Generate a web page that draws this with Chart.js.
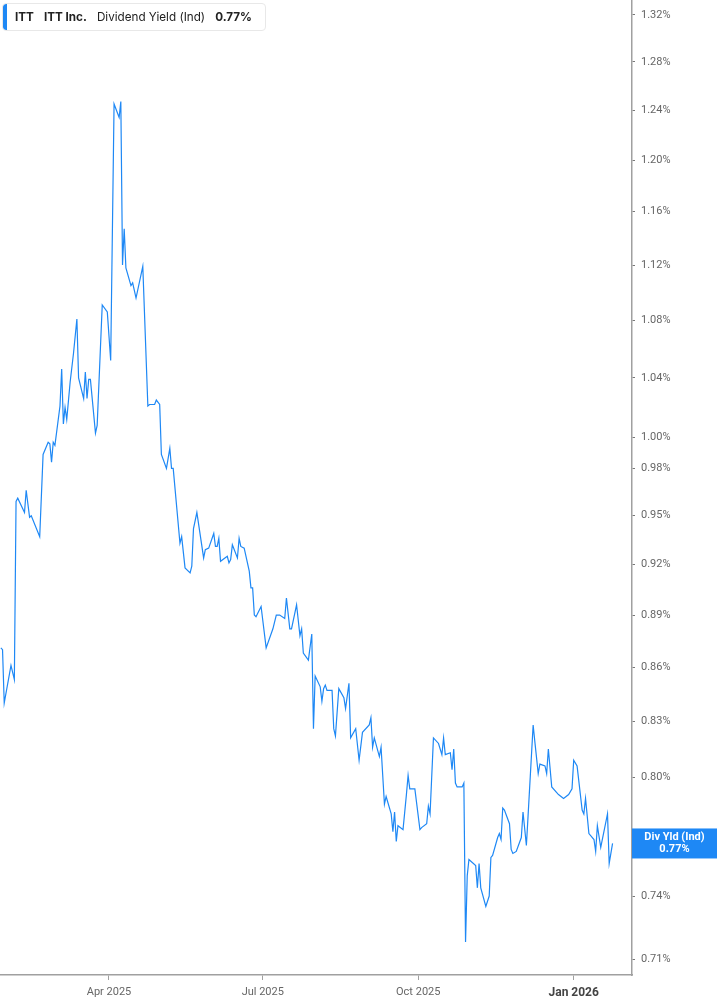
<!DOCTYPE html>
<html>
<head>
<meta charset="utf-8">
<title>ITT Dividend Yield</title>
<script src="https://cdn.jsdelivr.net/npm/chart.js@4.4.1/dist/chart.umd.min.js"></script>
<style>
  html, body { margin: 0; padding: 0; background: #fff; }
  #wrap { position: relative; width: 717px; height: 1005px; }
  #legend {
    position: absolute; left: 2px; top: 3px; height: 28px; padding-right: 3px;
    box-sizing: border-box; border: 1px solid #e8e8e8; border-radius: 4px;
    background: #fff; font-family: Inter, "Noto Sans", sans-serif; font-size: 11.7px;
    color: #222; display: flex; align-items: center; overflow: hidden; white-space: nowrap;
  }
  #legend .bar { width: 4px; align-self: stretch; background: #1e88f5; margin-right: 8px; border-radius: 3px 0 0 3px; }
  #legend b { font-weight: 700; }
  #legend span { margin-right: 10px; }
</style>
</head>
<body>
<div id="wrap">
  <canvas id="chart"></canvas>
  <div id="legend"><div class="bar"></div><span><b>ITT</b></span><span><b>ITT Inc.</b></span><span>Dividend Yield (Ind)</span><span><b id="last-val"></b></span></div>
</div>
<script>
const dates = [
  '2025-01-27','2025-01-28','2025-01-29','2025-02-02','2025-02-04','2025-02-05','2025-02-06','2025-02-10','2025-02-11','2025-02-13',
  '2025-02-14','2025-02-19','2025-02-21','2025-02-24','2025-02-25','2025-02-26','2025-02-27','2025-02-28','2025-03-03','2025-03-04',
  '2025-03-05','2025-03-06','2025-03-07','2025-03-09','2025-03-11','2025-03-13','2025-03-14','2025-03-17','2025-03-18','2025-03-19',
  '2025-03-20','2025-03-21','2025-03-24','2025-03-25','2025-03-28','2025-03-31','2025-04-02','2025-04-04','2025-04-07','2025-04-08',
  '2025-04-09','2025-04-10','2025-04-11','2025-04-14','2025-04-15','2025-04-17','2025-04-21','2025-04-24','2025-04-25','2025-04-28',
  '2025-04-29','2025-05-01','2025-05-02','2025-05-05','2025-05-07','2025-05-08','2025-05-09','2025-05-13','2025-05-14','2025-05-16',
  '2025-05-19','2025-05-20','2025-05-21','2025-05-23','2025-05-27','2025-05-28','2025-05-30','2025-06-02','2025-06-03','2025-06-04',
  '2025-06-05','2025-06-06','2025-06-10','2025-06-11','2025-06-12','2025-06-13','2025-06-16','2025-06-17','2025-06-18','2025-06-20',
  '2025-06-23','2025-06-24','2025-06-25','2025-06-26','2025-06-27','2025-06-30','2025-07-03','2025-07-07','2025-07-09','2025-07-11',
  '2025-07-14','2025-07-15','2025-07-17','2025-07-18','2025-07-21','2025-07-23','2025-07-24','2025-07-25','2025-07-28','2025-07-30',
  '2025-07-31','2025-08-01','2025-08-04','2025-08-05','2025-08-06','2025-08-07','2025-08-08','2025-08-11','2025-08-12','2025-08-13',
  '2025-08-15','2025-08-18','2025-08-19','2025-08-21','2025-08-22','2025-08-25','2025-08-27','2025-08-29','2025-09-02','2025-09-03',
  '2025-09-04','2025-09-05','2025-09-08','2025-09-09','2025-09-11','2025-09-12','2025-09-15','2025-09-16','2025-09-17','2025-09-18',
  '2025-09-19','2025-09-22','2025-09-24','2025-09-25','2025-09-26','2025-09-29','2025-10-02','2025-10-03','2025-10-06','2025-10-07',
  '2025-10-08','2025-10-10','2025-10-13','2025-10-15','2025-10-16','2025-10-17','2025-10-20','2025-10-21','2025-10-22','2025-10-23',
  '2025-10-24','2025-10-27','2025-10-28','2025-10-29','2025-10-30','2025-10-31','2025-11-04','2025-11-05','2025-11-06','2025-11-07',
  '2025-11-10','2025-11-12','2025-11-13','2025-11-14','2025-11-17','2025-11-18','2025-11-19','2025-11-20','2025-11-21','2025-11-24',
  '2025-11-25','2025-11-26','2025-11-28','2025-12-01','2025-12-02','2025-12-04','2025-12-05','2025-12-08','2025-12-09','2025-12-11',
  '2025-12-12','2025-12-15','2025-12-16','2025-12-17','2025-12-19','2025-12-23','2025-12-26','2025-12-29','2025-12-31','2026-01-01',
  '2026-01-03','2026-01-06','2026-01-07','2026-01-08','2026-01-10','2026-01-13','2026-01-14','2026-01-15','2026-01-17','2026-01-21',
  '2026-01-22','2026-01-24'
];
const yieldPct = [
  0.871,0.870,0.840,0.861,0.853,0.959,0.961,0.952,0.966,0.949,
  0.950,0.937,0.989,0.997,0.996,0.984,0.997,0.995,1.021,1.046,
  1.009,1.020,1.012,1.037,1.057,1.081,1.040,1.026,1.044,1.026,
  1.039,1.039,1.003,1.008,1.091,1.086,1.052,1.245,1.234,1.247,
  1.120,1.147,1.118,1.105,1.107,1.096,1.119,1.021,1.022,1.022,
  1.025,1.022,0.989,0.980,0.993,0.980,0.980,0.933,0.937,0.918,
  0.915,0.919,0.942,0.952,0.924,0.929,0.930,0.939,0.931,0.931,
  0.936,0.922,0.925,0.921,0.923,0.932,0.924,0.936,0.931,0.930,
  0.916,0.906,0.906,0.890,0.889,0.895,0.871,0.882,0.890,0.890,
  0.888,0.900,0.882,0.882,0.896,0.878,0.882,0.868,0.864,0.879,
  0.826,0.855,0.849,0.841,0.848,0.850,0.847,0.847,0.826,0.822,
  0.848,0.843,0.837,0.851,0.821,0.826,0.809,0.824,0.828,0.832,
  0.816,0.821,0.811,0.816,0.786,0.790,0.781,0.772,0.782,0.767,
  0.775,0.773,0.791,0.801,0.794,0.794,0.773,0.774,0.776,0.785,
  0.781,0.821,0.818,0.812,0.821,0.812,0.813,0.804,0.815,0.797,
  0.795,0.795,0.797,0.718,0.750,0.758,0.755,0.744,0.756,0.744,
  0.735,0.740,0.759,0.760,0.769,0.771,0.768,0.784,0.783,0.776,
  0.763,0.761,0.762,0.769,0.782,0.765,0.780,0.828,0.819,0.802,
  0.807,0.806,0.802,0.815,0.795,0.791,0.789,0.791,0.794,0.809,
  0.806,0.783,0.781,0.789,0.771,0.768,0.762,0.775,0.764,0.781,
  0.756,0.766
];
const yTicks = [0.71, 0.74, 0.77, 0.80, 0.83, 0.86, 0.89, 0.92, 0.95, 0.98, 1.00, 1.04, 1.08, 1.12, 1.16, 1.20, 1.24, 1.28, 1.32];
const xTickDates = ['2025-04-01', '2025-07-01', '2025-10-01', '2026-01-01'];
const xTickLabels = ['Apr 2025', 'Jul 2025', 'Oct 2025', 'Jan 2026'];

const lineColor = '#1e88f5';
const lastValue = yieldPct[yieldPct.length - 1];
document.getElementById('last-val').textContent = lastValue.toFixed(2) + '%';

const points = dates.map((d, i) => ({ x: Date.parse(d), y: yieldPct[i] }));
const xTickValues = xTickDates.map(d => Date.parse(d));

const lastLabel = {
  id: 'lastLabel',
  afterDraw(chart) {
    const { ctx, chartArea, scales } = chart;
    const y = scales.y.getPixelForValue(lastValue);
    const left = chartArea.right;
    const w = chart.width - left;
    ctx.save();
    ctx.fillStyle = lineColor;
    ctx.fillRect(left, y - 15, w, 30);
    ctx.fillStyle = '#fff';
    ctx.font = 'bold 11px Roboto, sans-serif';
    ctx.textAlign = 'center';
    ctx.textBaseline = 'middle';
    ctx.fillText('Div Yld (Ind)', left + w / 2, y - 6);
    ctx.fillText(lastValue.toFixed(2) + '%', left + w / 2, y + 6);
    ctx.restore();
  }
};

new Chart(document.getElementById('chart'), {
  type: 'line',
  data: {
    datasets: [{
      label: 'Div Yld (Ind)',
      data: points,
      borderColor: lineColor,
      borderWidth: 1.2,
      pointRadius: 0,
      tension: 0,
      fill: false
    }]
  },
  options: {
    responsive: true,
    maintainAspectRatio: false,
    animation: false,
    layout: { padding: 0 },
    plugins: { legend: { display: false }, tooltip: { enabled: false } },
    scales: {
      x: {
        type: 'linear',
        min: Date.UTC(2025, 0, 26, 12),
        max: Date.UTC(2026, 1, 4, 12),
        afterBuildTicks: s => { s.ticks = xTickValues.map(v => ({ value: v })); },
        afterFit: s => { s.height = 30; s.paddingLeft = 0; s.paddingRight = 0; },
        border: { display: true, color: '#a0a0a0', width: 1.5 },
        grid: { display: true, drawOnChartArea: false, drawTicks: true, tickLength: 5, color: '#a0a0a0' },
        ticks: {
          autoSkip: false,
          maxRotation: 0,
          padding: 6,
          callback: v => xTickLabels[xTickValues.indexOf(v)],
          color: c => (c.tick && c.tick.label === 'Jan 2026') ? '#444' : '#666',
          font: c => (c.tick && c.tick.label === 'Jan 2026')
            ? { family: 'Roboto, sans-serif', size: 12, weight: 'bold' }
            : { family: 'Roboto, sans-serif', size: 11 }
        }
      },
      y: {
        type: 'logarithmic',
        position: 'right',
        min: 0.7026,
        max: 1.333,
        afterBuildTicks: s => { s.ticks = yTicks.map(v => ({ value: v })); },
        afterFit: s => { s.width = 85; s.paddingTop = 0; s.paddingBottom = 0; },
        border: { display: true, color: '#a0a0a0', width: 1.5 },
        grid: { display: true, drawOnChartArea: false, drawTicks: true, tickLength: 3, color: '#777' },
        ticks: {
          autoSkip: false,
          padding: 6,
          callback: v => Number(v).toFixed(2) + '%',
          color: '#666',
          font: { family: 'Roboto, sans-serif', size: 11 }
        }
      }
    }
  },
  plugins: [lastLabel]
});
</script>
</body>
</html>
